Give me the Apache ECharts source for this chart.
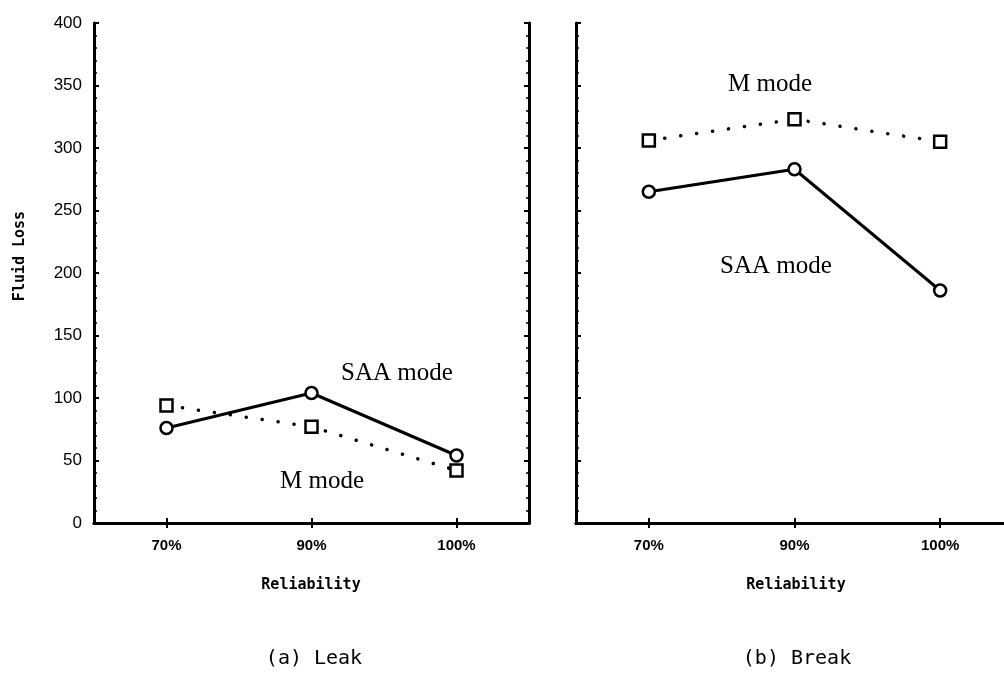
<!DOCTYPE html>
<html>
<head>
<meta charset="utf-8">
<script src="https://cdn.jsdelivr.net/npm/echarts@6/dist/echarts.min.js"></script>
<style>
  html, body { margin: 0; padding: 0; background: #fff; overflow: hidden; width: 1004px; height: 682px; }
  /* the drawing surface is a little wider than the page so the second panel's right edge is clipped */
  #chart { width: 1024px; height: 682px; }
</style>
</head>
<body>
<div id="chart"></div>
<script>
// Reliability levels on the horizontal axis
const categories = ['70%', '90%', '100%'];
// Fluid loss per mode, leak scenario
const leakSAA = [76, 104, 54];
const leakM = [94, 77, 42];
// Fluid loss per mode, break scenario
const breakSAA = [265, 283, 186];
const breakM = [306, 323, 305];
// Vertical axis range
const yMin = 0, yMax = 400, yStep = 50;

const chart = echarts.init(document.getElementById('chart'), null, { renderer: 'canvas' });

const grids = [
  { left: 94, width: 435, top: 23, bottom: 159 },
  { left: 576, width: 437, top: 23, bottom: 159 }
];

function xAxes(gridIndex) {
  const base = {
    type: 'category',
    data: categories,
    gridIndex: gridIndex,
    boundaryGap: true,
    axisLine: { show: true, lineStyle: { color: '#000', width: 3 } },
    axisTick: { show: true, inside: true, alignWithLabel: true, length: 5, lineStyle: { color: '#000', width: 2 } },
    splitLine: { show: false }
  };
  return [
    Object.assign({}, base, {
      position: 'bottom',
      axisLabel: { show: true, color: '#000', fontSize: 15, fontFamily: 'Liberation Sans', fontWeight: 'bold', margin: 15 }
    }),
    Object.assign({}, base, { position: 'top', axisLabel: { show: false } })
  ];
}

function yAxes(gridIndex, showLabels) {
  const base = {
    type: 'value',
    gridIndex: gridIndex,
    min: yMin,
    max: yMax,
    interval: yStep,
    axisLine: { show: true, lineStyle: { color: '#000', width: 3 } },
    axisTick: { show: true, inside: true, length: 5, lineStyle: { color: '#000', width: 2 } },
    minorTick: { show: true, splitNumber: 5, length: 3, lineStyle: { color: '#000', width: 1.5 } },
    splitLine: { show: false }
  };
  return [
    Object.assign({}, base, {
      position: 'left',
      axisLabel: { show: showLabels, color: '#000', fontSize: 17, fontFamily: 'Liberation Sans', margin: 12 }
    }),
    Object.assign({}, base, { position: 'right', axisLabel: { show: false } })
  ];
}

const xAxis = [].concat(xAxes(0), xAxes(1));
const yAxis = [].concat(yAxes(0, true), yAxes(1, false));

function saaSeries(data, xi, yi) {
  return {
    type: 'line',
    data: data,
    xAxisIndex: xi,
    yAxisIndex: yi,
    symbol: 'circle',
    symbolSize: 12,
    showSymbol: true,
    lineStyle: { color: '#000', width: 3, type: 'solid' },
    itemStyle: { color: '#fff', borderColor: '#000', borderWidth: 2.5 },
    z: 3,
    animation: false
  };
}

function mSeries(data, xi, yi) {
  return {
    type: 'line',
    data: data,
    xAxisIndex: xi,
    yAxisIndex: yi,
    symbol: 'rect',
    symbolSize: 12,
    showSymbol: true,
    lineStyle: { color: '#000', width: 3.5, type: [0.1, 16], cap: 'round' },
    itemStyle: { color: '#fff', borderColor: '#000', borderWidth: 2.5 },
    z: 2,
    animation: false
  };
}

const serifFont = '25px "Liberation Serif"';
const sansFont = 'bold 15px "DejaVu Sans Mono"';
const capFont = '20px "DejaVu Sans Mono"';

function txt(text, x, y, font, rotation) {
  return {
    type: 'text',
    x: x,
    y: y,
    rotation: rotation || 0,
    style: { text: text, font: font, fill: '#000', align: 'center', verticalAlign: 'middle' },
    z: 10
  };
}

chart.setOption({
  animation: false,
  backgroundColor: '#fff',
  grid: grids,
  xAxis: xAxis,
  yAxis: yAxis,
  series: [
    saaSeries(leakSAA, 0, 0),
    mSeries(leakM, 0, 0),
    saaSeries(breakSAA, 2, 2),
    mSeries(breakM, 2, 2)
  ],
  graphic: [
    // series annotations
    txt('SAA mode', 397, 373, serifFont),
    txt('M mode', 322, 481, serifFont),
    txt('M mode', 770, 84, serifFont),
    txt('SAA mode', 776, 266, serifFont),
    // axis titles
    txt('Fluid Loss', 20, 256, sansFont, Math.PI / 2),
    txt('Reliability', 311, 585, sansFont),
    txt('Reliability', 796, 585, sansFont),
    // panel captions
    txt('(a) Leak', 314, 659, capFont),
    txt('(b) Break', 797, 659, capFont)
  ]
});
</script>
</body>
</html>
